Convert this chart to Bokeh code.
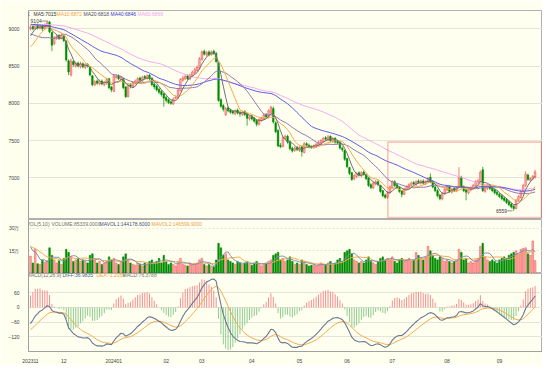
import numpy as np
import pandas as pd
from bokeh.plotting import figure
from bokeh.layouts import column
from bokeh.models import Range1d, FixedTicker, Label, BoxAnnotation, ColumnDataSource
from bokeh.core.properties import value
from bokeh.embed import file_html
from bokeh.resources import INLINE

# ---------------- data ----------------
title_text = "苹果指数 (010998)<日线>"
month_ticks = [0, 14, 35, 57, 72, 93, 113, 133, 152, 175, 197]
month_labels = ["202311", "12", "202401", "02", "03", "04", "05", "06", "07", "08", "09"]
price_ticks = [7000, 7500, 8000, 8500, 9000]
vol_ticks = [150000, 300000]
vol_tick_labels = ["15万", "30万"]
macd_ticks = [-120, -60, 0, 60]

legend_price = [("K", "#303030"), ("MA5:7015", "#303030"), ("MA10:6872", "#f0a040"),
                ("MA20:6818", "#4a4a6a"), ("MA40:6846", "#3a3ad0"), ("MA60:6869", "#f0a0f0")]
legend_vol = [("VOL(5,10)", "#707070"), ("VOLUME:85339.0000", "#707070"),
              ("MAVOL1:144178.6000", "#405080"), ("MAVOL2:146599.9000", "#f0a040")]
legend_macd = [("MACD(12,26,9)", "#707070"), ("DIFF:36.9835", "#405890"),
               ("DEA:-1.2059", "#f0a040"), ("MACD:76.3788", "#707070")]

# closes before the first visible bar (only used to warm up the averages)
pre_closes = [8900, 8920, 8880, 8950, 8930, 8970, 8950, 9000, 8980, 9020,
              9000, 9050, 9030, 9070, 9050, 9080, 9060, 9100, 9080, 9110,
              9100, 9130, 9110, 9150, 9120, 9160, 9140, 9180, 9150, 9190,
              9170, 9200, 9180, 9220, 9200, 9230, 9210, 9250, 9230, 9260,
              9280, 9250, 9270, 9240, 9200, 9150, 9100, 9050, 9000, 8950,
              8850, 8700, 8600, 8550, 8580, 8650, 8750, 8850, 8920, 8980]
pre_volumes = [16, 18, 20, 17, 19, 18, 21, 19, 17, 20]  # 万

opens = [9000, 9030, 9000, 9050, 9010, 9040, 9000, 9040, 9090, 8950,
         8800, 8870, 8910, 8870, 8900, 8830, 8570, 8380, 8560, 8500,
         8540, 8490, 8530, 8480, 8520, 8480, 8370, 8250, 8300, 8260,
         8300, 8250, 8270, 8330, 8220, 8160, 8350, 8370, 8320, 8330,
         8220, 8090, 8250, 8220, 8270, 8290, 8340, 8300, 8360, 8330,
         8380, 8340, 8260, 8230, 8190, 8160, 8130, 8080, 8050, 8020,
         7990, 8070, 8080, 8170, 8310, 8330, 8370, 8330, 8370, 8410,
         8440, 8470, 8590, 8700, 8650, 8690, 8650, 8700, 8670, 8540,
         8050, 7970, 7850, 7940, 7910, 7890, 7860, 7910, 7880, 7850,
         7890, 7860, 7790, 7830, 7800, 7770, 7720, 7770, 7790, 7850,
         7820, 7880, 7930, 7740, 7640, 7440, 7420, 7530, 7560, 7490,
         7400, 7370, 7410, 7370, 7420, 7340, 7460, 7440, 7420, 7410,
         7420, 7440, 7470, 7490, 7540, 7510, 7560, 7490, 7530, 7490,
         7480, 7400, 7370, 7260, 7140, 7070, 6990, 7020, 7070, 7030,
         7080, 7040, 7000, 6910, 6870, 6920, 6950, 6900, 6830, 6770,
         6740, 6800, 6870, 6950, 6910, 6870, 6830, 6780, 6850, 6870,
         6900, 6940, 6910, 6960, 6930, 6960, 6920, 6950, 7010, 6950,
         6880, 6830, 6770, 6720, 6790, 6840, 6880, 6810, 6860, 6830,
         6880, 7010, 6880, 6840, 6800, 6840, 6870, 6890, 6940, 6950,
         7110, 6820, 6860, 6900, 6870, 6840, 6810, 6780, 6760, 6730,
         6710, 6680, 6650, 6620, 6590, 6700, 6740, 6820, 6900, 7040,
         6970, 6990, 7010]
highs = [9050, 9060, 9070, 9070, 9060, 9060, 9070, 9100, 9104, 8960,
         8900, 8930, 8930, 8940, 8920, 8850, 8590, 8600, 8580, 8560,
         8560, 8560, 8550, 8540, 8540, 8500, 8380, 8310, 8320, 8320,
         8320, 8300, 8340, 8340, 8230, 8390, 8390, 8390, 8370, 8340,
         8230, 8260, 8270, 8300, 8320, 8350, 8360, 8370, 8380, 8390,
         8390, 8350, 8280, 8250, 8210, 8180, 8140, 8100, 8070, 8040,
         8080, 8110, 8200, 8340, 8370, 8390, 8390, 8400, 8440, 8480,
         8510, 8620, 8710, 8720, 8700, 8710, 8710, 8720, 8690, 8550,
         8070, 7990, 7950, 7960, 7930, 7910, 7920, 7930, 7900, 7900,
         7910, 7870, 7840, 7850, 7820, 7790, 7800, 7820, 7870, 7870,
         7920, 7970, 7960, 7760, 7650, 7470, 7560, 7580, 7580, 7500,
         7420, 7420, 7430, 7430, 7430, 7480, 7480, 7460, 7440, 7450,
         7470, 7500, 7520, 7550, 7560, 7580, 7570, 7550, 7550, 7510,
         7490, 7420, 7380, 7270, 7150, 7080, 7050, 7080, 7090, 7090,
         7100, 7060, 7010, 6930, 6950, 6970, 6970, 6910, 6840, 6790,
         6820, 6900, 6970, 6970, 6930, 6890, 6840, 6870, 6900, 6930,
         6950, 6960, 6970, 6980, 6980, 6980, 6970, 7010, 7060, 6970,
         6900, 6850, 6790, 6810, 6870, 6900, 6900, 6870, 6880, 6890,
         7145, 7030, 6900, 6860, 6870, 6890, 6920, 6970, 6990, 7100,
         7150, 6890, 6920, 6920, 6890, 6860, 6830, 6800, 6780, 6750,
         6730, 6700, 6670, 6640, 6720, 6770, 6840, 6920, 7090, 7060,
         7010, 7040, 7110]
lows = [8980, 8980, 8990, 8990, 8990, 8970, 8990, 9020, 8940, 8700,
        8780, 8850, 8850, 8860, 8820, 8560, 8380, 8360, 8490, 8480,
        8480, 8470, 8470, 8460, 8480, 8360, 8230, 8230, 8250, 8240,
        8240, 8230, 8250, 8190, 8150, 8150, 8320, 8310, 8300, 8190,
        8070, 8080, 8200, 8210, 8250, 8270, 8290, 8290, 8320, 8320,
        8310, 8230, 8190, 8160, 8120, 8090, 7955, 8010, 7990, 7980,
        7980, 8050, 8060, 8160, 8290, 8310, 8310, 8310, 8350, 8390,
        8420, 8450, 8570, 8640, 8630, 8630, 8640, 8650, 8540, 8020,
        7940, 7890, 7830, 7880, 7860, 7850, 7840, 7850, 7820, 7830,
        7830, 7700, 7770, 7770, 7740, 7690, 7700, 7750, 7770, 7800,
        7800, 7860, 7730, 7600, 7410, 7400, 7410, 7510, 7460, 7370,
        7340, 7350, 7360, 7350, 7285, 7330, 7420, 7400, 7390, 7390,
        7400, 7430, 7450, 7470, 7500, 7490, 7480, 7470, 7460, 7450,
        7380, 7350, 7230, 7130, 7040, 6960, 6970, 7000, 7020, 7010,
        7030, 6970, 6880, 6850, 6850, 6900, 6890, 6800, 6740, 6720,
        6720, 6790, 6860, 6880, 6850, 6800, 6740, 6770, 6830, 6850,
        6880, 6900, 6890, 6920, 6910, 6910, 6900, 6930, 6930, 6860,
        6810, 6740, 6700, 6700, 6770, 6820, 6800, 6790, 6810, 6810,
        6860, 6860, 6810, 6700, 6780, 6820, 6850, 6870, 6920, 6940,
        6810, 6800, 6840, 6840, 6810, 6780, 6760, 6730, 6700, 6680,
        6650, 6620, 6590, 6559, 6580, 6680, 6720, 6800, 6880, 6960,
        6950, 6970, 6990]
closes = [9020, 9000, 9050, 9010, 9040, 9000, 9050, 9080, 8960, 8780,
          8880, 8900, 8870, 8910, 8840, 8580, 8420, 8570, 8520, 8540,
          8500, 8530, 8490, 8510, 8500, 8380, 8250, 8290, 8270, 8300,
          8260, 8280, 8320, 8210, 8180, 8370, 8360, 8330, 8350, 8210,
          8090, 8240, 8230, 8280, 8300, 8330, 8310, 8350, 8340, 8370,
          8330, 8250, 8220, 8180, 8150, 8120, 8070, 8040, 8010, 8000,
          8060, 8080, 8180, 8320, 8340, 8360, 8330, 8380, 8420, 8450,
          8480, 8600, 8690, 8660, 8680, 8650, 8690, 8670, 8560, 8040,
          7960, 7920, 7930, 7900, 7880, 7870, 7900, 7870, 7860, 7880,
          7850, 7800, 7820, 7790, 7760, 7720, 7780, 7800, 7840, 7820,
          7900, 7950, 7750, 7620, 7430, 7420, 7540, 7560, 7480, 7390,
          7360, 7400, 7380, 7410, 7350, 7460, 7440, 7420, 7410, 7430,
          7450, 7480, 7500, 7530, 7520, 7550, 7500, 7530, 7480, 7470,
          7400, 7380, 7250, 7150, 7060, 6980, 7030, 7060, 7040, 7070,
          7050, 6990, 6900, 6870, 6930, 6950, 6910, 6820, 6760, 6740,
          6800, 6880, 6950, 6900, 6870, 6820, 6780, 6850, 6880, 6910,
          6930, 6920, 6950, 6940, 6960, 6930, 6950, 6990, 6950, 6880,
          6830, 6760, 6720, 6790, 6850, 6880, 6820, 6850, 6830, 6870,
          7000, 6880, 6830, 6810, 6850, 6870, 6900, 6950, 6960, 7080,
          6830, 6870, 6900, 6860, 6830, 6800, 6780, 6750, 6720, 6700,
          6670, 6640, 6610, 6590, 6700, 6750, 6820, 6900, 7050, 6980,
          6990, 7020, 7080]
volumes = [11.5, 7, 16, 6.5, 6, 9, 7.5, 8.5, 17, 12,
           9, 7, 8.5, 6, 10, 16, 14, 11, 8, 9,
           10, 8, 9, 8, 7, 12, 13, 9, 7, 8,
           6, 7, 8, 11, 9, 10, 7, 6, 8, 11,
           13, 9, 7, 6, 5.5, 7, 6, 5, 7, 6,
           8, 9, 7, 8, 10, 7, 12, 8, 6, 7,
           6, 5, 8, 10, 6, 5.5, 5, 7, 6, 6.5,
           7, 9, 10, 6, 5, 6, 5, 4.5, 9, 20,
           17, 12, 13, 9, 8, 7, 6, 8, 7, 6,
           7, 8, 6, 5.5, 7, 8, 6, 5, 6.5, 7,
           8, 9, 12, 13, 14, 9, 10, 8, 9, 11,
           8, 6, 7, 6, 9, 8, 6, 5, 5.5, 6,
           5, 6, 7, 6, 5.5, 7, 8, 6, 7, 9,
           10, 8, 14, 15, 16, 13, 9, 8, 7, 8,
           7, 9, 11, 8, 7, 6, 8, 10, 11, 9,
           10, 9, 11, 8, 7, 9, 10, 8, 9, 10,
           8, 9, 14, 12, 10, 9, 11, 18, 15, 12,
           10, 9, 11, 10, 8, 9, 8, 7, 8, 9,
           16, 14, 9, 10, 7, 8, 7, 9, 10, 18,
           20, 11, 9, 8, 9, 8, 7, 9, 10, 11,
           10, 12, 13, 14, 15, 13, 16, 16.6, 17, 13,
           12, 21.5, 8.5339]  # 万

# ---------------- derived series ----------------
N = len(closes)
idx = np.arange(N)
P = len(pre_closes)
cs = pd.Series(pre_closes + closes, dtype=float)
ma = {n: cs.rolling(n).mean().values[P:] for n in (5, 10, 20, 40, 60)}
ema12 = cs.ewm(span=12, adjust=False).mean()
ema26 = cs.ewm(span=26, adjust=False).mean()
diff_all = ema12 - ema26
dea_all = diff_all.ewm(span=9, adjust=False).mean()
diff = diff_all.values[P:]
dea = dea_all.values[P:]
hist = 2 * (diff - dea)

vs = pd.Series([v * 10000 for v in pre_volumes + volumes], dtype=float)
PV = len(pre_volumes)
vol = vs.values[PV:]
mavol5 = vs.rolling(5).mean().values[PV:]
mavol10 = vs.rolling(10).mean().values[PV:]

o = np.array(opens, float); c = np.array(closes, float)
h = np.array(highs, float); l = np.array(lows, float)
up = c >= o
UPF, UPL, DN = "#ffb0b0", "#f04848", "#008c00"
src = ColumnDataSource(dict(
    x=idx, o=o, c=c, h=h, l=l,
    top=np.maximum(o, c), bot=np.minimum(o, c),
    fill=[UPF if u else DN for u in up],
    line=[UPL if u else DN for u in up],
    vol=vol,
    hist=hist,
    hcol=["#f49090" if v >= 0 else "#90cc90" for v in hist],
))

# ---------------- layout ----------------
BG = "#fffff0"
GRID = "#e4e4d8"
W = 542
XR = Range1d(-0.84, 215.1)
FONT = "Liberation Sans"
CJK = "Noto Sans CJK SC"


def make_fig(height, top, bottom, yr, xaxis=False):
    p = figure(width=W, height=height, x_range=XR, y_range=yr, title=None,
               output_backend="svg", toolbar_location=None,
               min_border_left=28, min_border_right=0,
               min_border_top=top, min_border_bottom=bottom,
               background_fill_color=BG, border_fill_color=BG,
               x_axis_location="below" if xaxis else None)
    p.outline_line_color = "#b0b0b0"
    p.xgrid.visible = False
    p.ygrid.grid_line_color = GRID
    ax = p.yaxis[0]
    ax.axis_line_color = "#a0a0a0"
    ax.major_tick_line_color = None
    ax.minor_tick_line_color = None
    ax.major_label_text_font_size = "5px"
    ax.major_label_text_font = FONT
    ax.major_label_text_color = "#404040"
    ax.major_label_standoff = 3
    return p


def lab(p, x, y, text, color, font=FONT):
    p.add_layout(Label(x=x, y=y, x_units="screen", y_units="screen", text=text,
                       text_color=color, text_font_size="5px", text_font=font,
                       text_baseline="middle"))


# price panel: frame y 10..219
p1 = make_fig(219, 10, 0, Range1d(6443, 9245))
p1.yaxis[0].ticker = FixedTicker(ticks=price_ticks)
p1.ygrid.ticker = FixedTicker(ticks=price_ticks)
p1.segment("x", "l", "x", "h", source=src, line_color="line", line_width=0.7)
p1.vbar(x="x", top="top", bottom="bot", width=0.68, source=src,
        fill_color="fill", line_color="line", line_width=0.5)
ma_colors = {5: "#707070", 10: "#f5a94a", 20: "#9274b0", 40: "#5a5ae6", 60: "#f4aaf0"}
for n in (60, 40, 20, 10, 5):
    p1.line(idx, ma[n], line_color=ma_colors[n], line_width=1)

imax = int(np.argmax(h)); imin = int(np.argmin(l))
p1.text([imax - 3.3], [h[imax]], text=[f"{int(h[imax])}"], text_font_size="5px",
        text_font=value(FONT), text_align="right", text_baseline="middle", text_color="#404040")
p1.segment([imax - 3.1], [h[imax]], [imax - 0.5], [h[imax]], line_color="#404040", line_width=0.6)
p1.text([imin - 2.8], [l[imin]], text=[f"{int(l[imin])}"], text_font_size="5px",
        text_font=value(FONT), text_align="right", text_baseline="middle", text_color="#404040")
p1.segment([imin - 2.6], [l[imin]], [imin - 0.5], [l[imin]], line_color="#404040", line_width=0.6)

p1.add_layout(BoxAnnotation(left=150.1, right=214.6, top=7480, bottom=6470,
                            fill_alpha=0, line_color="#e83838", line_width=1.6))

lab(p1, -26, 214, title_text, "#404040", CJK)
lab(p1, 477, 214, "品种叠加", "#3a6aa0", CJK)
lab(p1, 503, 214, "周期", "#3a6aa0", CJK)
for (t, col), xs in zip(legend_price, [-2, 5, 28, 55, 82, 109]):
    lab(p1, xs, 206, t, col)

# volume panel: frame y 219..273
p2 = make_fig(54, 0, 0, Range1d(0, 357000))
p2.yaxis[0].ticker = FixedTicker(ticks=vol_ticks)
p2.yaxis[0].major_label_overrides = dict(zip(vol_ticks, vol_tick_labels))
p2.ygrid.ticker = FixedTicker(ticks=vol_ticks)
p2.ygrid.grid_line_dash = "2 2"
p2.vbar(x="x", top="vol", bottom=0, width=0.68, source=src,
        fill_color="fill", line_color="line", line_width=0.5)
p2.line(idx, mavol10, line_color="#f5a94a", line_width=1)
p2.line(idx, mavol5, line_color="#8090b0", line_width=1)
for (t, col), xs in zip(legend_vol, [-2, 23, 71, 123]):
    lab(p2, xs, 49.5, t, col)

# MACD panel: frame y 273..356, axis labels below
p3 = make_fig(92, 0, 9, Range1d(-180, 138.75), xaxis=True)
p3.yaxis[0].ticker = FixedTicker(ticks=macd_ticks)
p3.ygrid.ticker = FixedTicker(ticks=macd_ticks)
xa = p3.xaxis[0]
xa.ticker = FixedTicker(ticks=month_ticks)
xa.major_label_overrides = dict(zip(month_ticks, month_labels))
xa.major_label_text_font_size = "5px"
xa.major_label_text_font = FONT
xa.major_label_text_color = "#404040"
xa.major_label_standoff = 1
xa.major_tick_line_color = None
xa.minor_tick_line_color = None
xa.axis_line_color = "#a0a0a0"
p3.segment("x", 0, "x", "hist", source=src, line_color="hcol", line_width=1)
p3.line(idx, dea, line_color="#f5a94a", line_width=1)
p3.line(idx, diff, line_color="#6a7890", line_width=1.1)
for (t, col), xs in zip(legend_macd, [-2, 34, 68, 94]):
    lab(p3, xs, 76.5, t, col)
p3.add_layout(Label(x=-16, y=-5, x_units="screen", y_units="screen", text="日线",
                    text_color="#404040", text_font_size="5px", text_font=CJK,
                    text_baseline="middle", border_line_color="#a0a0a0",
                    padding=1))

layout = column(p1, p2, p3, spacing=0)
open("out.html", "w").write(file_html(layout, INLINE))
